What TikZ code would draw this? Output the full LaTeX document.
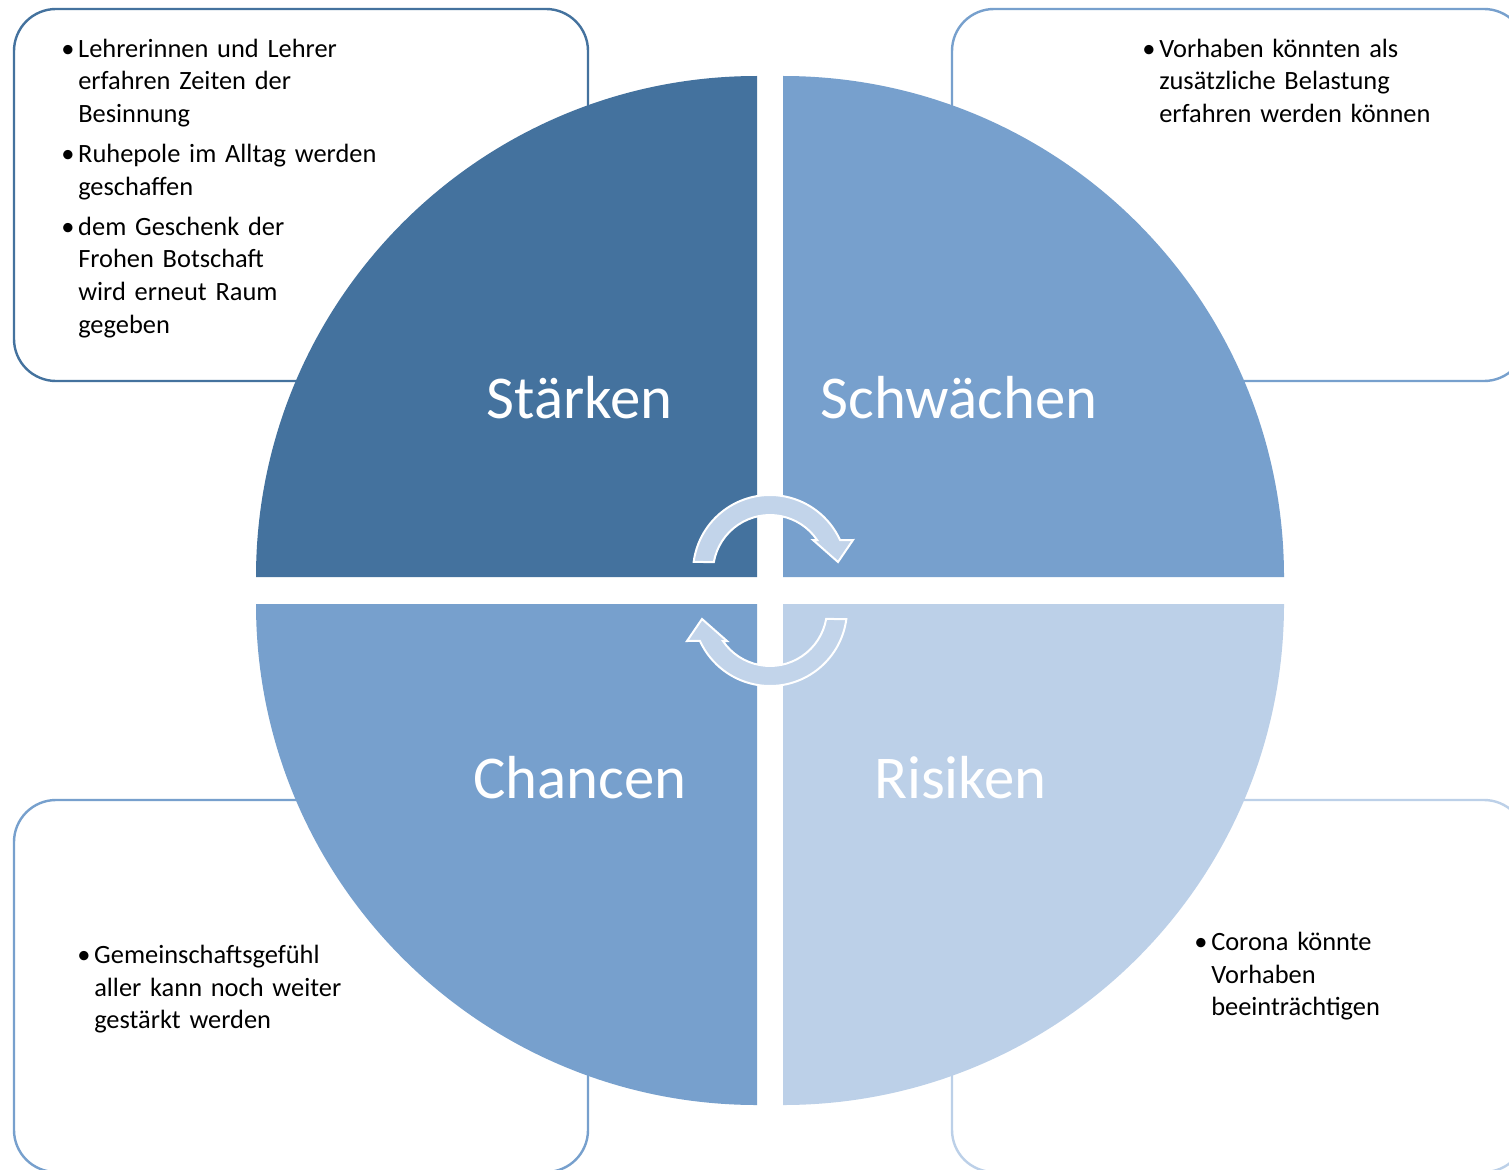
\documentclass[tikz,border=0pt]{standalone}
\usepackage{fontspec}
\setmainfont{Carlito}
\definecolor{qdark}{HTML}{44729E}
\definecolor{qmid}{HTML}{77A0CD}
\definecolor{qlight}{HTML}{BCD0E8}
\definecolor{arrowfill}{HTML}{C2D4EA}
% one bullet point with hanging indent
\newcommand{\bpt}[1]{\par\noindent\hangindent=12.75pt\hangafter=1\strut\makebox[12.75pt][l]{\textbullet}#1\par}
\newcommand{\bgap}{\vskip5.6pt}
\begin{document}
\begin{tikzpicture}[x=0.75pt,y=-0.75pt,
  infobox/.style={line width=1.8pt, rounded corners=31.5pt, fill=white},
  biglabel/.style={text=white, font=\fontsize{45.6}{54}\selectfont, anchor=base, inner sep=0pt},
  listtext/.style={anchor=north west, inner sep=0pt, text width=300pt,
    font=\fontsize{19.8}{24.5}\selectfont, execute at begin node=\raggedright},
  cyclearrow/.style={fill=arrowfill, draw=white, line width=1.5pt, line join=miter}]
\useasboundingbox (0,0) rectangle (1509,1170);
\fill[white] (0,0) rectangle (1509,1170);

% text boxes behind the circle
\draw[infobox, draw=qdark] (14,9) rectangle (588,381);
\draw[infobox, draw=qmid] (952,9) rectangle (1526,381);
\draw[infobox, draw=qmid] (14,800) rectangle (588,1172);
\draw[infobox, draw=qlight] (952,800) rectangle (1526,1172);

% four quarter discs
\fill[qdark] (757,577) -- (256,577) arc[start angle=180, end angle=270, radius=501] -- cycle;
\fill[qmid] (783,577) -- (783,76) arc[start angle=270, end angle=360, radius=501] -- cycle;
\fill[qlight] (783,604) -- (1284,604) arc[start angle=0, end angle=90, radius=501] -- cycle;
\fill[qmid] (757,604) -- (757,1105) arc[start angle=90, end angle=180, radius=501] -- cycle;

% circular arrows in the middle
\path[cyclearrow] (770,572) ++(-172.5:77) arc[start angle=-172.5, end angle=-24.5, radius=77]
  -- (853,540) -- (838,562) -- (813,540) -- (817.1,540)
  arc[start angle=-34.2, end angle=-169.9, radius=57] -- cycle;
\path[cyclearrow, rotate around={180:(770,590.5)}] (770,572) ++(-172.5:77) arc[start angle=-172.5, end angle=-24.5, radius=77]
  -- (853,540) -- (838,562) -- (813,540) -- (817.1,540)
  arc[start angle=-34.2, end angle=-169.9, radius=57] -- cycle;

% quadrant titles
\node[biglabel] (lblS) at (579.5,418) {Stärken};
\node[biglabel] (lblW) at (959,418) {Schwächen};
\node[biglabel] (lblC) at (580,798) {Chancen};
\node[biglabel] (lblR) at (960.5,798) {Risiken};

% bullet texts
\node[listtext] (txtS) at (61,24.1) {%
\bpt{Lehrerinnen und Lehrer\newline erfahren Zeiten der\newline Besinnung}\bgap
\bpt{Ruhepole im Alltag werden\newline geschaffen}\bgap
\bpt{dem Geschenk der\newline Frohen Botschaft\newline wird erneut Raum\newline gegeben}};
\node[listtext] (txtW) at (1142,24.1) {%
\bpt{Vorhaben könnten als\newline zusätzliche Belastung\newline erfahren werden können}};
\node[listtext] (txtC) at (77,930.6) {%
\bpt{Gemeinschaftsgefühl\newline aller kann noch weiter\newline gestärkt werden}};
\node[listtext] (txtR) at (1194,917.6) {%
\bpt{Corona könnte\newline Vorhaben\newline beeinträchtigen}};
\end{tikzpicture}
\end{document}
